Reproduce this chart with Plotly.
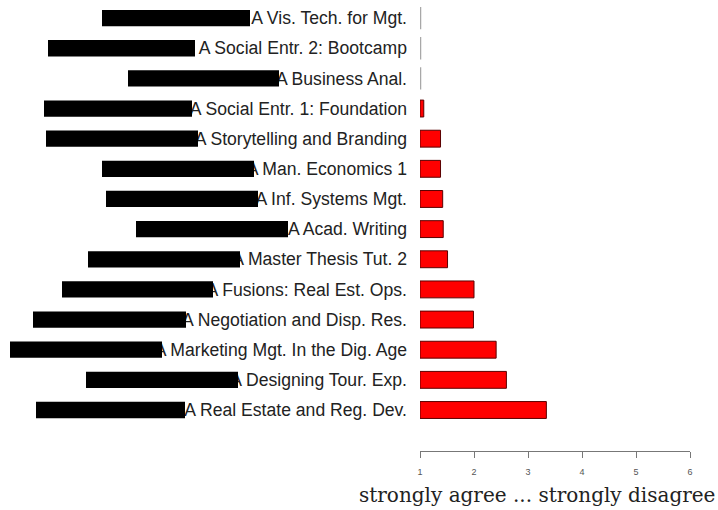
import plotly.graph_objects as go

# Data (listed top to bottom as in the chart)
courses = [
    "A Vis. Tech. for Mgt.",
    "A Social Entr. 2: Bootcamp",
    "A Business Anal.",
    "A Social Entr. 1: Foundation",
    "A Storytelling and Branding",
    "A Man. Economics 1",
    "A Inf. Systems Mgt.",
    "A Acad. Writing",
    "A Master Thesis Tut. 2",
    "A Fusions: Real Est. Ops.",
    "A Negotiation and Disp. Res.",
    "A Marketing Mgt. In the Dig. Age",
    "A Designing Tour. Exp.",
    "A Real Estate and Reg. Dev.",
]
scores = [1.0, 1.0, 1.0, 1.07, 1.38, 1.38, 1.42, 1.43, 1.51, 2.0, 1.99, 2.41, 2.60, 3.34]
x_ticks = [1, 2, 3, 4, 5, 6]
x_title = "strongly agree ... strongly disagree"

# redaction boxes (pixel extents of the black boxes hiding part of each label)
redact_px = [
    (102, 250), (48, 195), (128, 279), (44, 192), (46, 198), (102, 254), (106, 258),
    (136, 288), (88, 240), (62, 213), (33, 186), (10, 162), (86, 238), (36, 185),
]

W, H = 718, 510
ML, MR, MT, MB = 420, 28, 0, 59
PW = W - ML - MR

n = len(courses)
rows = list(range(n - 1, -1, -1))  # top item gets highest position

fig = go.Figure()

# bars starting at 1 (scale minimum)
fig.add_trace(go.Bar(
    y=rows,
    x=[s - 1 for s in scores],
    base=1,
    orientation="h",
    width=0.56,
    marker=dict(color="#ff0000", line=dict(color="#5a0000", width=1)),
    hoverinfo="skip",
    showlegend=False,
))

# zero-length bars show only their outline (grey line)
zero_rows = [r for r, s in zip(rows, scores) if s <= 1.0]
zero_vals = [s for s in scores if s <= 1.0]
fig.add_trace(go.Scatter(
    y=zero_rows,
    x=zero_vals,
    mode="markers",
    marker=dict(symbol="line-ns", size=16, line=dict(color="#a8a8a8", width=2.5)),
    hoverinfo="skip",
    showlegend=False,
))

shapes = []
for r, (x0, x1) in zip(rows, redact_px):
    shapes.append(dict(
        type="rect", xref="paper", yref="y",
        x0=(x0 - ML) / PW, x1=(x1 - ML) / PW,
        y0=r - 0.27, y1=r + 0.27,
        fillcolor="black", line=dict(width=0), layer="above",
    ))

fig.update_layout(
    width=W, height=H,
    margin=dict(l=ML, r=MR, t=MT, b=MB),
    plot_bgcolor="white", paper_bgcolor="white",
    shapes=shapes,
    bargap=0.4,
    annotations=[dict(
        text=x_title, xref="paper", yref="paper",
        x=(537 - ML) / PW, y=-(495 - (H - MB)) / (H - MB - MT),
        xanchor="center", yanchor="middle", showarrow=False,
        font=dict(family="DejaVu Serif", size=20, color="#222"),
    )],
)

fig.update_xaxes(
    range=[1, 6], tickvals=x_ticks, ticktext=[str(t) for t in x_ticks],
    showgrid=False, zeroline=False, showline=True, linecolor="#777", linewidth=1,
    ticks="outside", ticklen=6, tickcolor="#777", tickwidth=1,
    tickfont=dict(family="Liberation Sans, Arial", size=9, color="#555"),
    ticklabelstandoff=6, fixedrange=True,
)
fig.update_yaxes(
    range=[-1.36, n - 0.4], tickvals=rows, ticktext=courses,
    showgrid=False, zeroline=False, showline=False, ticks="",
    tickfont=dict(family="Liberation Sans, Arial", size=17.6, color="#222"),
    ticklabelstandoff=12, fixedrange=True,
)

fig.write_html(
    "out.html",
    config={"displayModeBar": False},
    post_script="document.body.style.margin='0';document.body.style.padding='0';document.body.style.overflow='hidden';",
)
